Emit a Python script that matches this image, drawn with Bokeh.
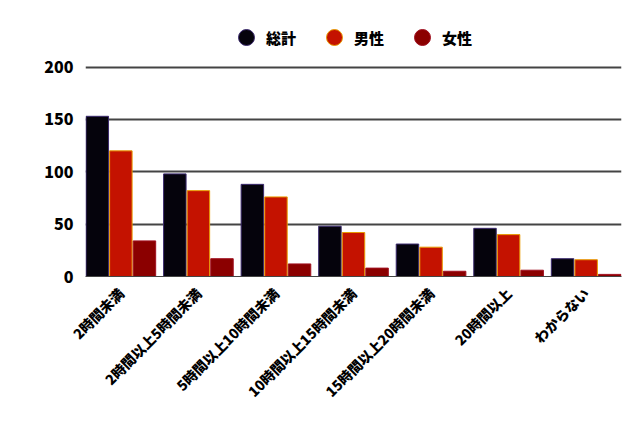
from bokeh.plotting import figure
from bokeh.models import (ColumnDataSource, FactorRange, Range1d, FixedTicker,
                          Legend, LegendItem)
from bokeh.transform import dodge
from bokeh.embed import file_html
from bokeh.resources import INLINE
import math

categories = ["2時間未満", "2時間以上5時間未満", "5時間以上10時間未満",
              "10時間以上15時間未満", "15時間以上20時間未満", "20時間以上", "わからない"]
total = [153, 98, 88, 48, 31, 46, 17]
male = [120, 82, 76, 42, 28, 40, 16]
female = [34, 17, 12, 8, 5, 6, 2]
series_names = ["総計", "男性", "女性"]
y_ticks = [0, 50, 100, 150, 200]

FONT = "'Noto Sans CJK JP Black', 'Noto Sans CJK JP', sans-serif"

src = ColumnDataSource(dict(cat=categories, total=total, male=male, female=female))

# the frame is taller than the 0-200 data span so that the legend sits inside it
p = figure(width=638, height=422, output_backend="svg", toolbar_location=None,
           x_range=FactorRange(*categories, range_padding=-0.044,
                               range_padding_units="absolute"),
           y_range=Range1d(0, 255),
           min_border_left=85, min_border_right=17,
           min_border_top=9, min_border_bottom=146)
p.outline_line_color = None
p.background_fill_color = "white"
p.border_fill_color = "white"

fills = ["#05030c", "#c41200", "#8b0000"]
lines = ["#3b2a6e", "#e89a00", "#a01020"]
cols = ["total", "male", "female"]
offs = [-0.304, 0.0, 0.304]

items = []
for col, off, fc, lc, name in zip(cols, offs, fills, lines, series_names):
    p.vbar(x=dodge("cat", off, range=p.x_range), top=col, width=0.29, source=src,
           fill_color=fc, line_color=lc, line_width=1)
    r = p.scatter(x="cat", y=col, source=src, size=0, fill_color=fc,
                  line_color=lc, line_width=1)
    items.append(LegendItem(label=name, renderers=[r]))

legend = Legend(items=items, orientation="horizontal", location=(141, 219),
                glyph_width=40, glyph_height=40, label_standoff=-4, spacing=18,
                padding=0, margin=0, border_line_color=None,
                background_fill_alpha=0,
                label_text_font=FONT, label_text_font_style="bold",
                label_text_font_size="15px", label_text_color="#000000")
p.add_layout(legend, "center")

p.yaxis.ticker = FixedTicker(ticks=y_ticks)
p.yaxis.axis_line_color = None
p.yaxis.major_tick_line_color = None
p.yaxis.minor_tick_line_color = None
p.yaxis.major_tick_out = 0
p.yaxis.major_label_standoff = 12
p.yaxis.major_label_text_font = FONT
p.yaxis.major_label_text_font_style = "bold"
p.yaxis.major_label_text_font_size = "16px"
p.yaxis.major_label_text_color = "#000000"

p.ygrid.ticker = FixedTicker(ticks=y_ticks[1:])
p.ygrid.grid_line_color = "#444444"
p.ygrid.grid_line_width = 2
p.xgrid.grid_line_color = None

p.xaxis.axis_line_color = "#444444"
p.xaxis.axis_line_width = 1
p.xaxis.major_tick_line_color = None
p.xaxis.minor_tick_line_color = None
p.xaxis.major_tick_out = 0
p.xaxis.major_label_standoff = 14
p.xaxis.major_label_orientation = math.pi / 4
p.xaxis.major_label_text_font = FONT
p.xaxis.major_label_text_font_style = "bold"
p.xaxis.major_label_text_font_size = "14px"
p.xaxis.major_label_text_color = "#000000"

open("out.html", "w").write(file_html(p, INLINE))
